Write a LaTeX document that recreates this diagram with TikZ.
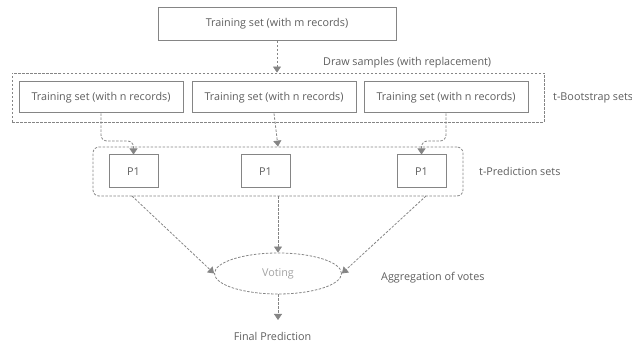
\documentclass[tikz,border=0pt]{standalone}
\usepackage{fontspec}
\setmainfont{Open Sans}
\usetikzlibrary{arrows.meta,shapes.geometric}
\definecolor{linegray}{HTML}{858585}
\definecolor{textgray}{HTML}{5E5E5E}
\tikzset{
  setbox/.style={draw=linegray, line width=1pt, text=textgray, font=\fontsize{10.8}{12}\selectfont, inner sep=0pt},
  groupbox/.style={draw=linegray, line width=0.8pt, dash pattern=on 2.5pt off 1.5pt, inner sep=0pt},
  flow/.style={draw=linegray, line width=0.8pt, dash pattern=on 2.5pt off 1.5pt, -{Triangle[width=8pt,length=6pt]}},
  note/.style={text=textgray, font=\fontsize{10.8}{12}\selectfont, anchor=west, inner sep=0pt}
}
\begin{document}
\begin{tikzpicture}[x=1pt, y=-1pt]
  \useasboundingbox (0,0) rectangle (632,344);
  % sets
  \node[setbox, minimum width=238, minimum height=33] (full) at (277,24) {Training set (with m records)};
  \node[groupbox, minimum width=532, minimum height=49] (boot) at (278,97.5) {};
  \node[setbox, minimum width=164, minimum height=31] (b1) at (101,97.5) {Training set (with n records)};
  \node[setbox, minimum width=164, minimum height=31] (b2) at (274,97.5) {Training set (with n records)};
  \node[setbox, minimum width=164, minimum height=31] (b3) at (446,97.5) {Training set (with n records)};
  \node[groupbox, rounded corners=6pt, minimum width=370, minimum height=49] (pred) at (278,171.5) {};
  \node[setbox, minimum width=49, minimum height=33] (p1) at (133.5,171.5) {P1};
  \node[setbox, minimum width=49, minimum height=33] (p2) at (265.5,171.5) {P1};
  \node[setbox, minimum width=49, minimum height=33] (p3) at (421.5,171.5) {P1};
  \node[groupbox, ellipse, minimum width=127, minimum height=41, text=linegray!75,
        font=\fontsize{10.8}{12}\selectfont] (vote) at (278,273.5) {Voting};
  \coordinate (final) at (278,320);
  % labels
  \node[note] (drawlbl) at (323,63) {Draw samples (with replacement)};
  \node[note] (bootlbl) at (553,97.5) {t-Bootstrap sets};
  \node[note] (predlbl) at (479,171.5) {t-Prediction sets};
  \node[note] (agglbl) at (381,278) {Aggregation of votes};
  \node[note, anchor=center] (finallbl) at (272.5,336) {Final Prediction};
  % connectors
  \begin{scope}[rounded corners=6pt]
    \draw[flow] (full.south) -- (full.south |- boot.north);
    \draw[flow] (b1.south) |- (118,141) -| (p1.north);
    \draw[flow] (b2.south) -- (vote.north |- pred.north);
    \draw[flow] (b3.south) |- (434,141) -| (p3.north);
  \end{scope}
  \draw[flow] (132,196) -- (vote.west);
  \draw[flow] (vote.north |- pred.south) -- (vote.north);
  \draw[flow] (426,196) -- (vote.east);
  \draw[flow] (vote.south) -- (final);
\end{tikzpicture}
\end{document}
